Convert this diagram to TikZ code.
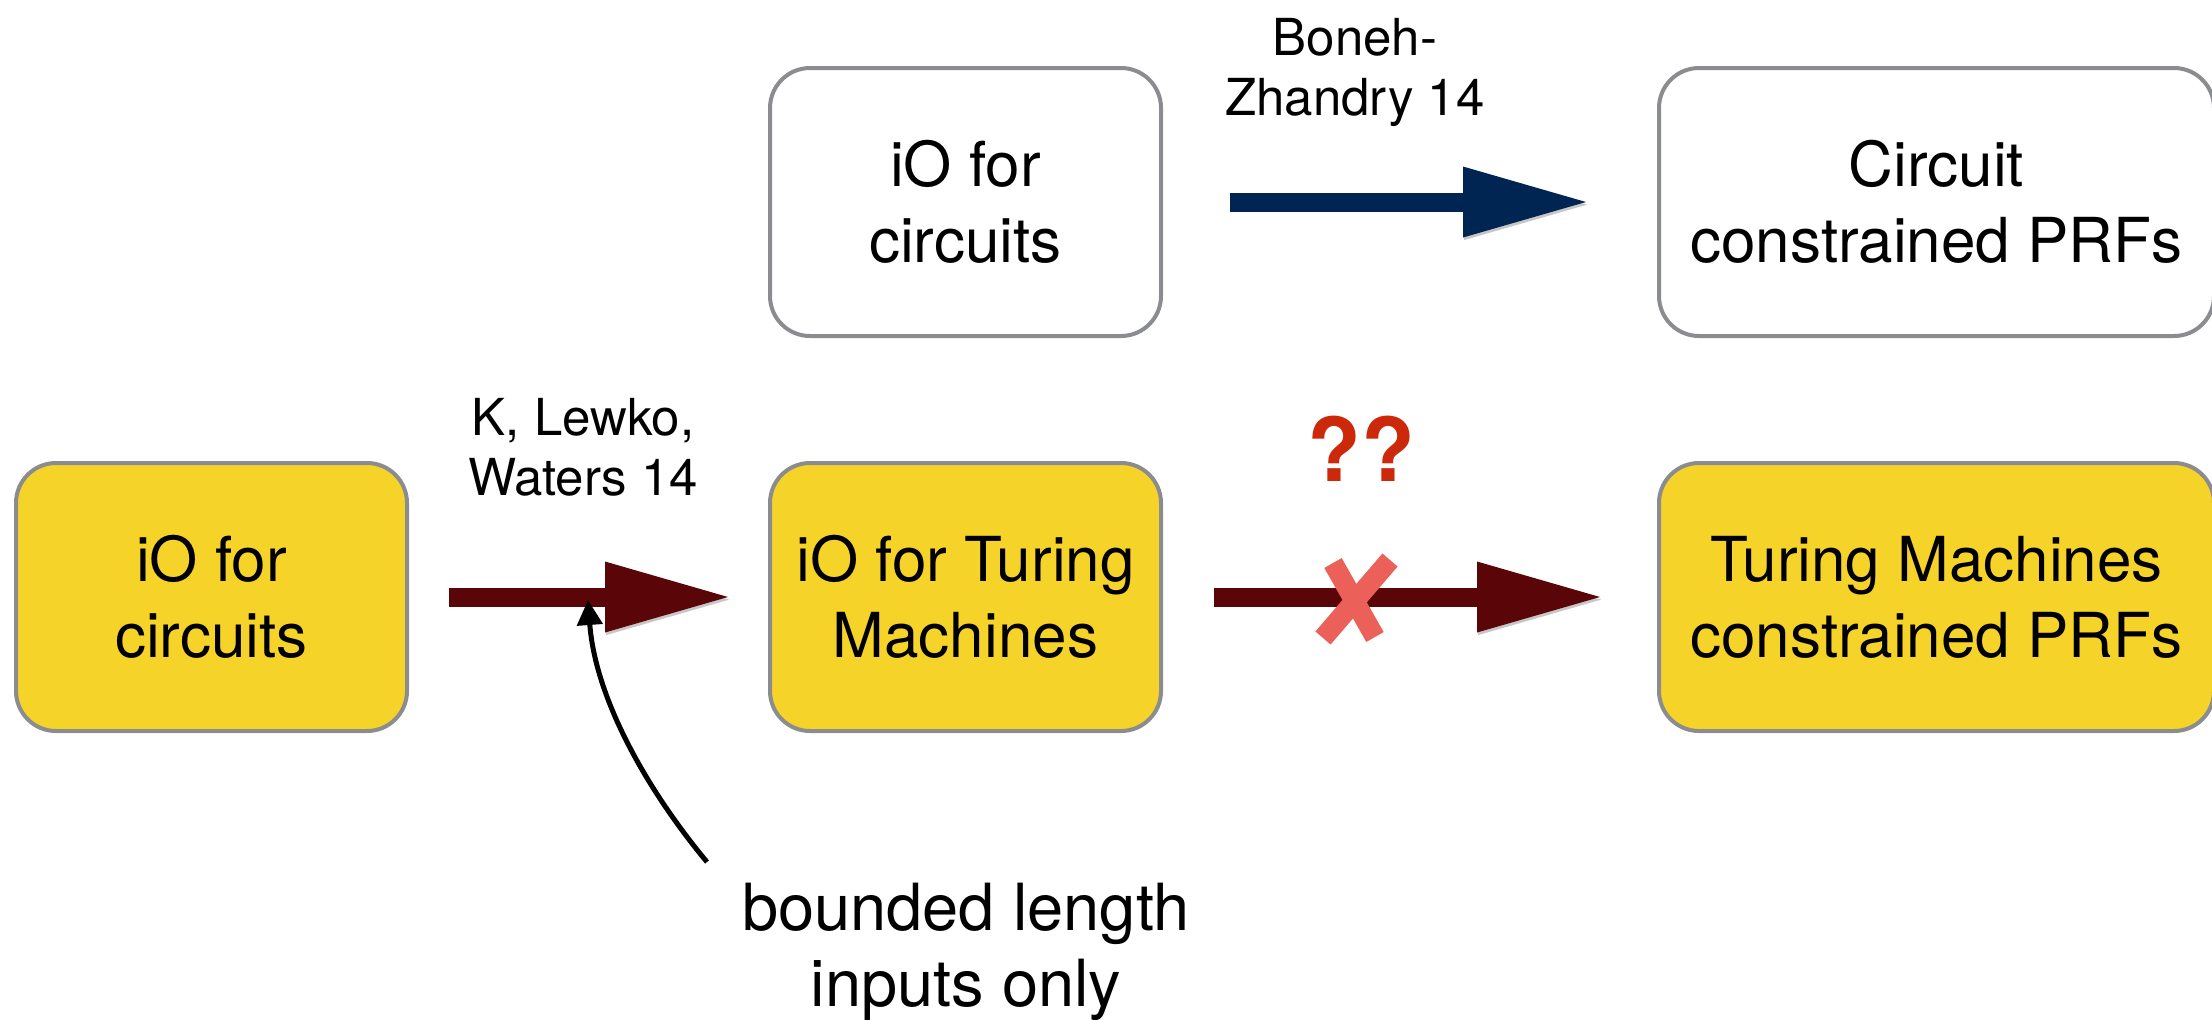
\documentclass[tikz,border=0pt]{standalone}
\usepackage{fontspec}
\setmainfont{TeX Gyre Heros}
\usetikzlibrary{arrows.meta}

\definecolor{boxyellow}{RGB}{245,211,41}
\definecolor{boxgray}{RGB}{138,140,143}
\definecolor{maroonarrow}{RGB}{90,5,8}
\definecolor{navyarrow}{RGB}{1,37,82}
\definecolor{qred}{RGB}{204,40,10}
\definecolor{crossred}{RGB}{236,96,90}

\tikzset{
  box/.style={draw=boxgray, line width=2pt, rounded corners=20pt,
    minimum height=134pt, inner sep=0pt, align=center,
    font=\fontsize{31}{38}\selectfont},
  smallbox/.style={box, minimum width=195.5pt},
  widebox/.style={box, minimum width=277.5pt},
  ybox/.style={fill=boxyellow},
  wbox/.style={fill=white},
  bigarrow/.style={line width=9.5pt,
    -{Triangle[length=61.5pt,width=35.5pt,line width=0pt]},
    preaction={draw=black!22, transform canvas={xshift=0.6pt,yshift=-1.3pt}}},
  citelabel/.style={align=center, inner sep=0pt, font=\fontsize{25.5}{30}\selectfont},
  notelabel/.style={align=center, inner sep=0pt, font=\fontsize{32.5}{38}\selectfont},
  notearrow/.style={line width=2.5pt, -{Triangle[length=12.5pt,width=12.5pt]}},
  crossmark/.style={draw=crossred, line width=10pt},
}

\begin{document}
\begin{tikzpicture}[x=0.5pt,y=-0.5pt]
  \useasboundingbox (0,0) rectangle (2212,1019);
  \clip (0,0) rectangle (2212,1019);

  % top row
  \node[smallbox, wbox] (ioc) at (965.5,202) {iO for\\circuits};
  \node[widebox, wbox] (cprf) at (1936.5,202) {Circuit\\constrained PRFs};

  % bottom row
  \node[smallbox, ybox] (iocb) at (211.5,597) {iO for\\circuits};
  \node[smallbox, ybox] (iotm) at (965.5,597) {iO for Turing\\Machines};
  \node[widebox, ybox] (tmprf) at (1936.5,597) {Turing Machines\\constrained PRFs};

  % implications
  \draw[bigarrow, navyarrow, shorten <=33.5pt, shorten >=35.5pt] (ioc) -- (cprf);
  \draw[bigarrow, maroonarrow, shorten <=20pt, shorten >=20pt] (iocb) -- (iotm);
  \draw[bigarrow, maroonarrow, shorten <=25.5pt, shorten >=28.5pt] (iotm) -- (tmprf);

  % citations
  \node[citelabel] (bz) at (1355,72) {Boneh-\\Zhandry 14};
  \node[citelabel] (klw) at (583,447) {K, Lewko,\\Waters 14};

  % open question
  \node[font=\bfseries\fontsize{44}{50}\selectfont, text=qred, inner sep=0pt] (qq) at (1361,449) {??};
  \draw[crossmark] (1333,563) -- (1375,637);
  \draw[crossmark] (1390,560) -- (1323,638);

  % restriction note
  \node[notelabel] (note) at (966,952) {bounded length\\inputs only};
  \coordinate (noteStart) at (707,862);
  \coordinate (noteEnd) at (588,600);
  \draw[notearrow] (noteStart) .. controls (643,785) and (595,695) .. (noteEnd);
\end{tikzpicture}
\end{document}
